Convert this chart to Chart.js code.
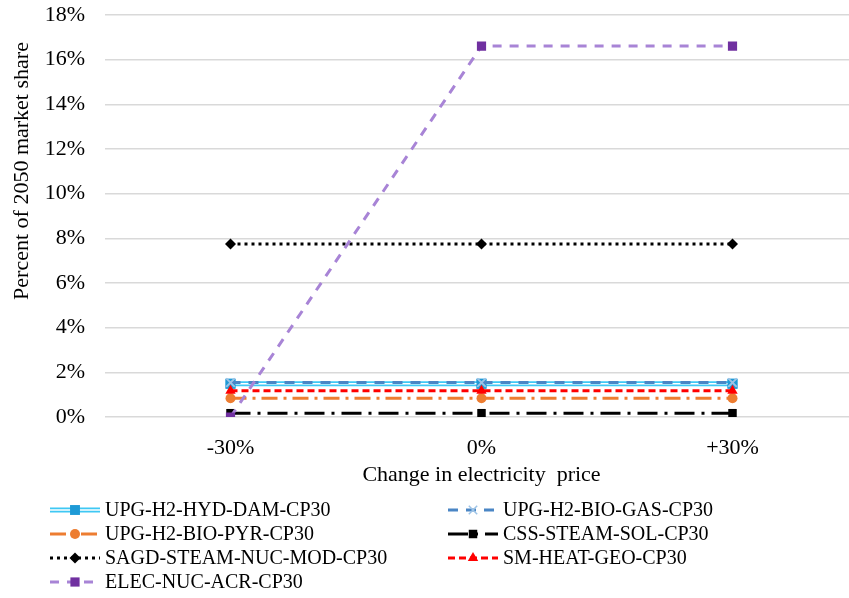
<!DOCTYPE html>
<html>
<head>
<meta charset="utf-8">
<script src="https://cdn.jsdelivr.net/npm/chart.js@4.4.1/dist/chart.umd.min.js"></script>
<style>
  html, body { margin: 0; padding: 0; background: #fff; overflow: hidden; }
  #wrap { position: relative; width: 866px; height: 598px; }
</style>
</head>
<body>
<div id="wrap"><canvas id="myChart" width="866" height="598"></canvas></div>
<script>
// --- Data ---
const categories = ['-30%', '0%', '+30%'];
const yMax = 18;
const yStep = 2;

const seriesNames = [
  'UPG-H2-HYD-DAM-CP30',
  'UPG-H2-BIO-GAS-CP30',
  'UPG-H2-BIO-PYR-CP30',
  'CSS-STEAM-SOL-CP30',
  'SAGD-STEAM-NUC-MOD-CP30',
  'SM-HEAT-GEO-CP30',
  'ELEC-NUC-ACR-CP30'
];
const hydDam   = [1.49, 1.49, 1.49];
const bioGas   = [1.54, 1.54, 1.54];
const bioPyr   = [0.84, 0.84, 0.84];
const cssSol   = [0.17, 0.17, 0.17];
const sagdNuc  = [7.75, 7.75, 7.75];
const smHeat   = [1.17, 1.17, 1.17];
const elecNuc  = [0.0, 16.61, 16.61];

const xTitle = 'Change in electricity  price';
const yTitle = 'Percent of 2050 market share';

const FONT = "'Liberation Serif', 'Times New Roman', serif";

// --- Styles per series ---
const styles = [
  { color: '#3FC8F4', width: 5, dash: [], point: 'rect', r: 7, fill: '#1E9AD6', double: true },
  { color: '#4A86C5', width: 3, dash: [10, 8], point: 'crossRot', r: 6, fill: '#9DC3E6' },
  { color: '#ED7D31', width: 3, dash: [16, 6, 3, 6], point: 'circle', r: 5, fill: '#ED7D31' },
  { color: '#000000', width: 3, dash: [20, 7, 3, 7], point: 'rect', r: 6, fill: '#000000' },
  { color: '#000000', width: 3, dash: [3, 4], point: 'rectRot', r: 5.5, fill: '#000000' },
  { color: '#FF0000', width: 3, dash: [7, 4], point: 'triangle', r: 6, fill: '#FF0000' },
  { color: '#A884D6', width: 3, dash: [9, 8], point: 'rect', r: 6.5, fill: '#7030A0' }
];
const seriesData = [hydDam, bioGas, bioPyr, cssSol, sagdNuc, smHeat, elecNuc];

const datasets = seriesNames.map((name, i) => ({
  label: name,
  data: seriesData[i],
  borderColor: styles[i].color,
  borderWidth: styles[i].width,
  borderDash: styles[i].dash,
  pointStyle: styles[i].point,
  pointRadius: styles[i].r,
  pointBackgroundColor: styles[i].fill,
  pointBorderColor: styles[i].fill,
  pointBorderWidth: styles[i].point === 'crossRot' ? 2 : 0,
  fill: false,
  tension: 0,
  order: seriesNames.length - i   // later series on top, like the original
}));

// --- Marker drawing for the legend ---
function drawMarker(ctx, st, x, y) {
  const r = st.r;
  ctx.save();
  ctx.setLineDash([]);
  ctx.fillStyle = st.fill;
  ctx.strokeStyle = st.fill;
  ctx.beginPath();
  if (st.point === 'rect') {
    const s = Math.SQRT1_2 * r;
    ctx.rect(x - s, y - s, 2 * s, 2 * s);
    ctx.fill();
  } else if (st.point === 'rectRot') {
    ctx.moveTo(x, y - r); ctx.lineTo(x + r, y); ctx.lineTo(x, y + r); ctx.lineTo(x - r, y);
    ctx.closePath(); ctx.fill();
  } else if (st.point === 'circle') {
    ctx.arc(x, y, r, 0, Math.PI * 2); ctx.fill();
  } else if (st.point === 'triangle') {
    ctx.moveTo(x, y - r); ctx.lineTo(x + r * 0.87, y + r * 0.5); ctx.lineTo(x - r * 0.87, y + r * 0.5);
    ctx.closePath(); ctx.fill();
  } else if (st.point === 'crossRot') {
    const s = r * 0.7;
    ctx.lineWidth = 1.5;
    ctx.moveTo(x - s, y - s); ctx.lineTo(x + s, y + s);
    ctx.moveTo(x + s, y - s); ctx.lineTo(x - s, y + s);
    ctx.stroke();
  }
  ctx.restore();
}

// --- Plugins ---
// cyan series is a double line: white core drawn over it, then markers again
const doubleLinePlugin = {
  id: 'doubleLine',
  afterDatasetDraw(chart, args) {
    if (!styles[args.index].double) return;
    const ctx = chart.ctx;
    const pts = args.meta.data;
    ctx.save();
    ctx.strokeStyle = '#ffffff';
    ctx.lineWidth = 1.5;
    ctx.beginPath();
    pts.forEach((p, k) => k ? ctx.lineTo(p.x, p.y) : ctx.moveTo(p.x, p.y));
    ctx.stroke();
    ctx.restore();
    pts.forEach(p => p.draw(ctx, chart.chartArea));
  }
};

// y title sits above the plot's middle in the original, so draw it by hand
const yTitlePlugin = {
  id: 'yTitle',
  afterDraw(chart) {
    const ctx = chart.ctx;
    ctx.save();
    ctx.translate(22, 171);
    ctx.rotate(-Math.PI / 2);
    ctx.font = '22px ' + FONT;
    ctx.fillStyle = '#000';
    ctx.textAlign = 'center';
    ctx.textBaseline = 'middle';
    ctx.fillText(yTitle, 0, 0);
    ctx.restore();
  }
};

const legendPlugin = {
  id: 'bottomLegend',
  afterDraw(chart) {
    const ctx = chart.ctx;
    const cols = [{ x0: 50, x1: 100, tx: 105 }, { x0: 448, x1: 498, tx: 503 }];
    const rowY = [510, 534, 558, 582];
    ctx.save();
    ctx.font = '20px ' + FONT;
    ctx.textBaseline = 'middle';
    ctx.fillStyle = '#000';
    seriesNames.forEach((name, i) => {
      const c = cols[i % 2];
      const y = rowY[Math.floor(i / 2)];
      const st = styles[i];
      ctx.save();
      ctx.strokeStyle = st.color;
      ctx.lineWidth = st.width;
      ctx.setLineDash(st.dash);
      ctx.beginPath();
      ctx.moveTo(c.x0, y); ctx.lineTo(c.x1, y);
      ctx.stroke();
      if (st.double) {
        ctx.strokeStyle = '#fff';
        ctx.lineWidth = 1.5;
        ctx.beginPath(); ctx.moveTo(c.x0, y); ctx.lineTo(c.x1, y); ctx.stroke();
      }
      ctx.restore();
      drawMarker(ctx, st, (c.x0 + c.x1) / 2, y);
      ctx.fillText(name, c.tx, y + 1);
    });
    ctx.restore();
  }
};

// --- Chart ---
const ctx = document.getElementById('myChart').getContext('2d');
const chart = new Chart(ctx, {
  type: 'line',
  data: { labels: categories, datasets: datasets },
  options: {
    responsive: false,
    animation: false,
    layout: { padding: { left: 0, top: 15, right: 1, bottom: 110 } },
    plugins: { legend: { display: false }, tooltip: { enabled: false } },
    scales: {
      x: {
        offset: true,
        grid: { display: false },
        border: { display: false },
        ticks: { color: '#000', font: { family: FONT, size: 22 }, padding: 10 },
        title: { display: true, text: xTitle, color: '#000',
                 font: { family: FONT, size: 22 }, padding: { top: 8, bottom: 0 } },
        afterFit(scale) { scale.height = 71; }
      },
      y: {
        min: 0, max: yMax,
        grid: { color: '#D9D9D9', lineWidth: 1.5, drawTicks: false },
        border: { display: false },
        ticks: { stepSize: yStep, color: '#000', font: { family: FONT, size: 22 }, padding: 20,
                 callback: v => v + '%' },
        afterFit(scale) { scale.width = 105; scale.paddingTop = 0; scale.paddingBottom = 0; }
      }
    }
  },
  plugins: [doubleLinePlugin, yTitlePlugin, legendPlugin]
});
</script>
</body>
</html>
